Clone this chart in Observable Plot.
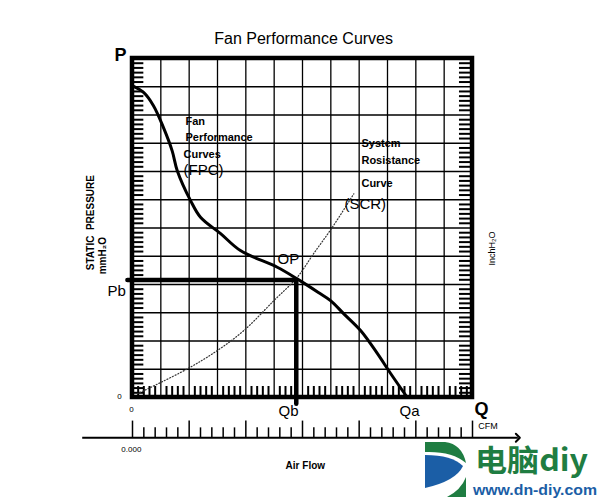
<!DOCTYPE html>
<html>
<head>
<meta charset="utf-8">
<script src="https://cdn.jsdelivr.net/npm/d3@7"></script>
<script src="https://cdn.jsdelivr.net/npm/@observablehq/plot@0.6"></script>
<style>
  html, body { margin: 0; padding: 0; background: #fff; }
  #chart { width: 600px; height: 500px; }
</style>
</head>
<body>
<div id="chart"></div>
<script>
// ---- Data (grid units: 12 x 12 cells) ----
const fpcQ = [0, 0.39, 0.74, 1.09, 1.40, 1.58, 2.05, 2.40, 3.11, 3.81, 5.11, 5.81, 6.56, 6.99, 7.45, 8.05, 8.64, 9.11, 9.70];
const fpcP = [11.03, 10.80, 10.33, 9.56, 8.73, 8.03, 6.97, 6.38, 5.80, 5.20, 4.61, 4.20, 3.72, 3.43, 2.97, 2.37, 1.56, 0.85, 0];
const scrQ = [0.17, 1.93, 2.99, 3.93, 4.99, 5.81, 6.39, 7.05, 7.81];
const scrP = [0.13, 1.01, 1.66, 2.37, 3.43, 4.25, 5.09, 6.02, 7.21];
const opQ = 5.78, opP = 4.16;
const gridCells = 12;
const airflowMajor = [0, 2, 4, 6, 8, 10, 12];

const fpc = fpcQ.map((q, i) => ({q, p: fpcP[i]}));
const scr = scrQ.map((q, i) => ({q, p: scrP[i]}));

const gridLines = d3.range(1, gridCells);
const cells = d3.range(0, gridCells);
const sideMinor = cells.flatMap(c => [1,2,3,4,5].map(k => c + k / 6));
const bottomMinor = cells.flatMap(c => [1,2,3,4].map(k => c + k / 5));
const airMinor = d3.range(0, 6).flatMap(c => [1,2,3,4].map(k => c * 2 + k * 0.4));

const axisY = -1.425;      // lower Air Flow axis (grid units)
const F = "Liberation Sans, Arial, sans-serif";

const labels = [
  {t: "P", x: -0.42, y: 12.1, s: 18, w: "bold"},
  {t: "Q", x: 12.32, y: -0.4, s: 18, w: "bold"},
  {t: "Pb", x: -0.56, y: 3.78, s: 15, w: "normal"},
  {t: "0", x: -0.46, y: 0.04, s: 8, w: "normal"},
  {t: "0", x: -0.04, y: -0.42, s: 8, w: "normal"},
  {t: "Qb", x: 5.51, y: -0.5, s: 15, w: "normal"},
  {t: "Qa", x: 9.78, y: -0.5, s: 15, w: "normal"},
  {t: "OP", x: 5.5, y: 4.88, s: 15, w: "normal"},
  {t: "Air Flow", x: 6.1, y: -2.4, s: 10, w: "bold"},
  {t: "0.000", x: -0.04, y: -1.84, s: 8, w: "normal"},
  {t: "Fan Performance Curves", x: 6.04, y: 12.68, s: 16, w: "normal"}
];
const leftLabels = [
  {t: "Fan", x: 1.87, y: 9.76, s: 11, w: "bold"},
  {t: "Performance", x: 1.87, y: 9.2, s: 11, w: "bold"},
  {t: "Curves", x: 1.8, y: 8.6, s: 11, w: "bold"},
  {t: "(FPC)", x: 1.8, y: 8.03, s: 15, w: "normal"},
  {t: "System", x: 8.08, y: 8.98, s: 11, w: "bold"},
  {t: "Rosistance", x: 8.08, y: 8.38, s: 11, w: "bold"},
  {t: "Curve", x: 8.08, y: 7.57, s: 11, w: "bold"},
  {t: "(SCR)", x: 7.48, y: 6.86, s: 15, w: "normal"},
  {t: "CFM", x: 12.2, y: -1.03, s: 9, w: "normal"}
];
const vLabels = [
  {t: "STATIC  PRESSURE", x: -1.48, y: 6.19, s: 10, w: "bold"},
  {t: "mmH₂O", x: -1.06, y: 5.02, s: 10, w: "bold"},
  {t: "InchH₂O", x: 12.7, y: 5.27, s: 9, w: "normal"}
];

const textMarks = (data, anchor, rotate = 0) => ["bold", "normal"].map(w => Plot.text(data.filter(d => d.w === w), {
  x: "x", y: "y", text: "t", fontSize: d => d.s, fontWeight: w,
  fontFamily: F, fill: "black", textAnchor: anchor, rotate, lineAnchor: "middle"
}));

const plot = Plot.plot({
  width: 600,
  height: 500,
  marginLeft: 132,
  marginRight: 128,
  marginTop: 58,
  marginBottom: 103,
  x: {domain: [0, 12], axis: null},
  y: {domain: [0, 12], axis: null},
  style: {background: "#fff", fontFamily: F, overflow: "visible"},
  marks: [
    // grid
    Plot.ruleX(gridLines, {x: d => d, y1: 0, y2: 12, stroke: "black", strokeWidth: 1.3}),
    Plot.ruleY(gridLines, {y: d => d, x1: 0, x2: 12, stroke: "black", strokeWidth: 1.3}),
    // minor ticks inside the frame
    Plot.ruleY(sideMinor, {y: d => d, x1: 0, x2: 0.4, stroke: "black", strokeWidth: 2}),
    Plot.ruleY(sideMinor, {y: d => d, x1: 11.54, x2: 12, stroke: "black", strokeWidth: 2}),
    Plot.ruleX(bottomMinor, {x: d => d, y1: 0, y2: 0.39, stroke: "black", strokeWidth: 2}),
    // SCR dotted
    Plot.line(scr, {x: "q", y: "p", curve: "catmull-rom", stroke: "#333", strokeWidth: 1.2, strokeDasharray: "1,2"}),
    // FPC
    Plot.line(fpc, {x: "q", y: "p", curve: "catmull-rom", stroke: "black", strokeWidth: 3}),
    // operating point lines
    Plot.line([{q: -0.18, p: opP}, {q: opQ, p: opP}, {q: opQ, p: -0.22}], {x: "q", y: "p", stroke: "black", strokeWidth: 4.5}),
    // frame
    Plot.rect([{}], {x1: 0, x2: 12, y1: 0, y2: 12, fill: "none", stroke: "black", strokeWidth: 4.5}),
    // Air flow axis
    Plot.link([{}], {x1: -1.775, x2: 13.6, y1: axisY, y2: axisY, stroke: "black", strokeWidth: 2, markerEnd: "arrow"}),
    Plot.ruleX(airflowMajor, {x: d => d, y1: axisY, y2: axisY + 0.59, stroke: "black", strokeWidth: 1.5}),
    Plot.ruleX(airMinor, {x: d => d, y1: axisY, y2: axisY + 0.35, stroke: "black", strokeWidth: 1.5}),
    // texts
    ...textMarks(labels, "middle"),
    ...textMarks(leftLabels, "start"),
    ...textMarks(vLabels, "middle", -90)
  ]
});

document.getElementById("chart").appendChild(plot);

// ---- decorative logo (bottom right) ----
const svg = d3.select(plot);
const g = svg.append("g").attr("text-anchor", "start");
g.append("path").attr("d", "M425,442 L445,442 Q462,444 466,463 Q452,451 425,452 Z").attr("fill", "#1f7d42");
g.append("path").attr("d", "M425,455 Q452,455 463,466 Q456,481 425,488 Z").attr("fill", "#1b5ea6");
g.append("path").attr("d", "M466,477 L466,497 L447,497 Q461,490 466,477 Z").attr("fill", "#1f7d42");
g.append("text").attr("x", 475).attr("y", 471).attr("fill", "#1f7d42").attr("text-anchor", "start")
  .attr("font-family", "Noto Sans CJK SC, sans-serif").attr("font-weight", "bold").attr("font-size", 30)
  .attr("textLength", 113).attr("lengthAdjust", "spacingAndGlyphs").text("电脑diy");
g.append("text").attr("x", 473).attr("y", 495).attr("fill", "#1b5ea6").attr("text-anchor", "start")
  .attr("font-family", F).attr("font-weight", "bold").attr("font-size", 14)
  .attr("textLength", 124).attr("lengthAdjust", "spacingAndGlyphs").text("www.dn-diy.com");
</script>
</body>
</html>
